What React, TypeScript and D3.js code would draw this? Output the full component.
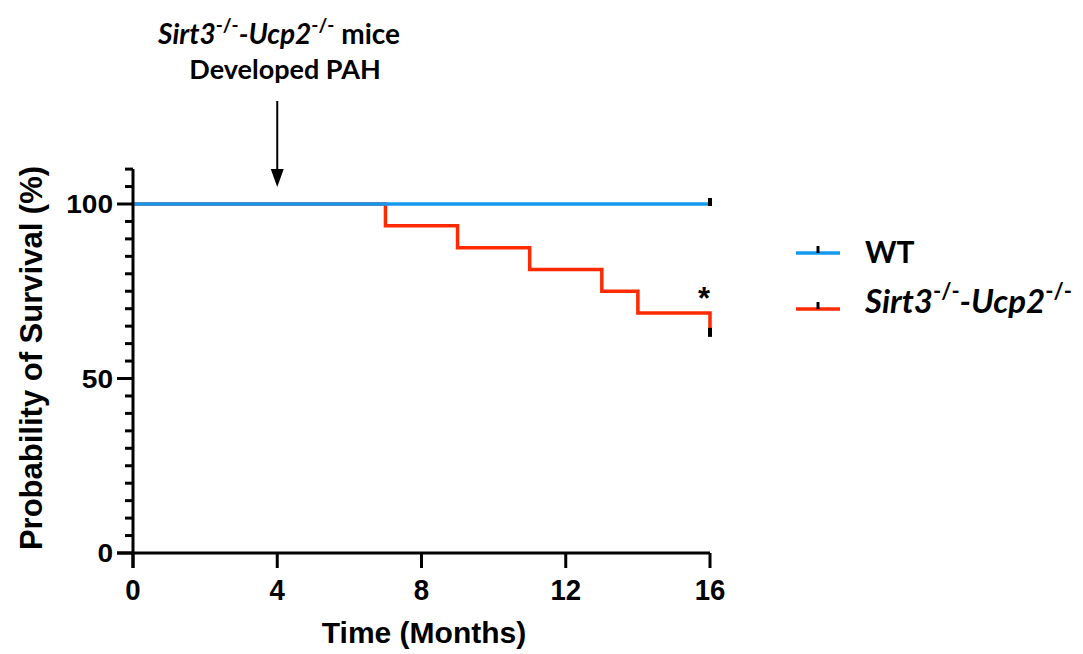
import React from "react";
import * as d3 from "d3";

const W = 1083;
const H = 654;

// Kaplan-Meier data (time in months, survival %)
const wtTimes = [0, 16];
const wtSurvival = [100, 100];
const koTimes = [0, 7, 9, 11, 13, 14, 16];
const koSurvival = [100, 93.75, 87.5, 81.25, 75, 68.75, 62.5];
const xTicks = [0, 4, 8, 12, 16];
const yMajorTicks = [0, 50, 100];
const yMinorTicks = d3.range(0, 111, 5);
const seriesNames = ["WT", "Sirt3-/--Ucp2-/-"];
const arrowTime = 4;

const BLUE = "#1499EF";
const RED = "#FF2A00";
const SANS = "'Liberation Sans', Arial, sans-serif";
const CAL = "Lato, 'Open Sans', sans-serif";

export default function App() {
  const x = d3.scaleLinear().domain([0, 16]).range([133, 710]);
  const y = d3.scaleLinear().domain([0, 100]).range([553, 204]);

  const line = d3
    .line<[number, number]>()
    .x((d) => x(d[0]))
    .y((d) => y(d[1]))
    .curve(d3.curveStepAfter);

  const wtData: [number, number][] = wtTimes.map((t, i) => [t, wtSurvival[i]]);
  const koData: [number, number][] = koTimes.map((t, i) => [t, koSurvival[i]]);

  const ax = x(0);
  const ay = y(0);

  return (
    <svg
      width={W}
      height={H}
      style={{ position: "absolute", left: 0, top: 0, background: "#fff" }}
    >
      {/* series */}
      <path d={line(koData) || ""} fill="none" stroke={RED} strokeWidth={3.5} />
      <path d={line(wtData) || ""} fill="none" stroke={BLUE} strokeWidth={3.5} />
      {/* censor marks */}
      <line x1={x(16)} x2={x(16)} y1={y(100) - 6} y2={y(100) + 2} stroke="#000" strokeWidth={4} />
      <line x1={x(16)} x2={x(16)} y1={y(62.5) - 7} y2={y(62.5) + 2} stroke="#000" strokeWidth={4} />

      {/* axes */}
      <line x1={ax} x2={ax} y1={y(110)} y2={ay + 15} stroke="#000" strokeWidth={3} />
      <line x1={ax - 16} x2={x(16)} y1={ay} y2={ay} stroke="#000" strokeWidth={3} />
      {yMinorTicks.map((v) => (
        <line
          key={"ym" + v}
          x1={ax - (yMajorTicks.includes(v) ? 16 : 8)}
          x2={ax}
          y1={y(v)}
          y2={y(v)}
          stroke="#000"
          strokeWidth={3}
        />
      ))}
      {xTicks.map((v) => (
        <line key={"xt" + v} x1={x(v)} x2={x(v)} y1={ay} y2={ay + 15} stroke="#000" strokeWidth={3} />
      ))}
      {yMajorTicks.map((v) => (
        <text
          key={"yl" + v}
          transform={`translate(113,${y(v) + 9}) scale(1.08,1)`}
          textAnchor="end"
          fontFamily={SANS}
          fontWeight="bold"
          fontSize={26}
        >
          {v}
        </text>
      ))}
      {xTicks.map((v) => (
        <text
          key={"xl" + v}
          transform={`translate(${x(v)},600) scale(0.92,1)`}
          textAnchor="middle"
          fontFamily={SANS}
          fontWeight="bold"
          fontSize={30}
        >
          {v}
        </text>
      ))}
      <text x={424} y={643} textAnchor="middle" fontFamily={SANS} fontWeight="bold" fontSize={30}>
        Time (Months)
      </text>
      <text
        transform="translate(42,358) rotate(-90)"
        textAnchor="middle"
        fontFamily={SANS}
        fontWeight="bold"
        fontSize={31}
      >
        Probability of Survival (%)
      </text>

      {/* significance */}
      <text x={704} y={309} textAnchor="middle" fontFamily={SANS} fontWeight="bold" fontSize={31}>
        *
      </text>

      {/* annotation */}
      <text x={279} y={44} textAnchor="middle" fontFamily={CAL} fontWeight="bold" fontSize={28}>
        <tspan fontStyle="italic">Sirt3</tspan>
        <tspan fontSize={19} dy={-12}>-/-</tspan>
        <tspan fontStyle="italic" dy={12}>-Ucp2</tspan>
        <tspan fontSize={19} dy={-12}>-/-</tspan>
        <tspan dy={12}> mice</tspan>
      </text>
      <text x={285} y={79} textAnchor="middle" fontFamily={CAL} fontWeight="bold" fontSize={27}>
        Developed PAH
      </text>
      <line x1={x(arrowTime)} x2={x(arrowTime)} y1={101} y2={172} stroke="#000" strokeWidth={2} />
      <path
        d={`M${x(arrowTime) - 6.5},169 L${x(arrowTime) + 6.5},169 L${x(arrowTime)},187 Z`}
        fill="#000"
      />

      {/* legend */}
      {[0, 1].map((i) => {
        const ly = i === 0 ? 253 : 309;
        return (
          <g key={"lg" + i}>
            <line x1={796} x2={840} y1={ly} y2={ly} stroke={i === 0 ? BLUE : RED} strokeWidth={3.5} />
            <line x1={818} x2={818} y1={ly - 7} y2={ly} stroke="#000" strokeWidth={3} />
          </g>
        );
      })}
      <text x={865} y={263} fontFamily={CAL} fontWeight="bold" fontSize={30}>
        {seriesNames[0]}
      </text>
      <text x={865} y={313} fontFamily={CAL} fontWeight="bold" fontSize={33}>
        <tspan fontStyle="italic">Sirt3</tspan>
        <tspan fontSize={22} dy={-14}>-/-</tspan>
        <tspan fontStyle="italic" dy={14}>-Ucp2</tspan>
        <tspan fontSize={22} dy={-14}>-/-</tspan>
      </text>
    </svg>
  );
}
